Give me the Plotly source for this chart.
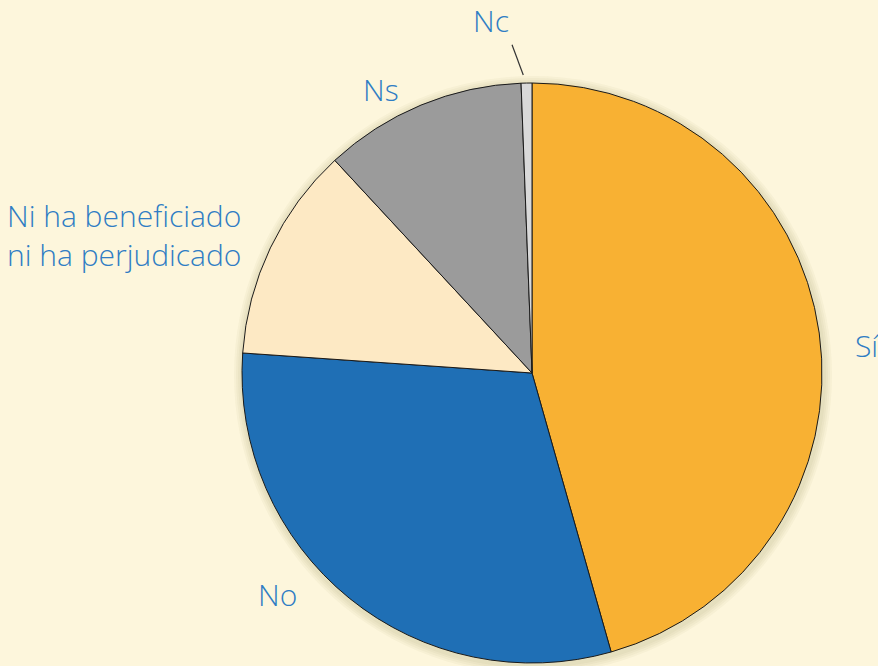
import math
import plotly.graph_objects as go

# ---- data ----
labels = ["Sí", "No", "Ni ha beneficiado<br>ni ha perjudicado", "Ns", "Nc"]
values = [45.6, 30.5, 12.0, 11.3, 0.6]

# ---- style ----
colors = ["#f8b133", "#1f6fb5", "#fde9c4", "#9b9b9b", "#d9d9d9"]
# label placement: (angle offset from slice mid-angle in deg, distance as fraction of radius, xanchor, yanchor)
label_style = [
    (3.1, 1.112, "left", "middle"),
    (7.4, 1.107, "right", "middle"),
    (0.0, 1.104, "right", "middle"),
    (-5.6, 1.107, "center", "middle"),
    (-5.5, 1.225, "center", "middle"),
]
text_color = "#2f7dc4"
font_family = "Open Sans"
font_size = 30

W, H = 878, 666
cx, cy, r = 532, 373, 290  # pie centre / radius in pixels


def to_paper(px, py):
    return px / W, 1 - py / H


def polar(theta_deg, dist):
    t = math.radians(theta_deg)
    return cx + dist * math.sin(t), cy - dist * math.cos(t)


total = sum(values)
mids = []
acc = 0.0
for v in values:
    mids.append((acc + v / 2) / total * 360)
    acc += v

fig = go.Figure(go.Pie(
    labels=labels,
    values=values,
    sort=False,
    direction="clockwise",
    rotation=0,
    marker=dict(colors=colors, line=dict(color="#1a1a1a", width=1)),
    textinfo="none",
    showlegend=False,
    automargin=False,
    hoverinfo="label+percent",
    domain=dict(x=[(cx - r) / W, (cx + r) / W], y=[(H - cy - r) / H, (H - cy + r) / H]),
))

# labels
for lab, mid, (dth, k, xa, ya) in zip(labels, mids, label_style):
    px, py = polar(mid + dth, k * r)
    x, y = to_paper(px, py)
    fig.add_annotation(
        x=x, y=y, xref="paper", yref="paper", text=lab, showarrow=False,
        xanchor=xa, yanchor=ya, align="left",
        font=dict(family=font_family, size=font_size, color=text_color, weight=300),
    )

# leader line for the smallest slice (Nc)
nc = len(values) - 1
x0, y0 = to_paper(*polar(mids[nc] - 0.6, 1.028 * r))
x1, y1 = to_paper(*polar(mids[nc] - 2.4, 1.134 * r))
fig.add_shape(type="line", xref="paper", yref="paper", x0=x0, y0=y0, x1=x1, y1=y1,
              line=dict(color="#333333", width=1.2))

# soft shadow around the pie
for extra in [9, 7, 5, 3]:
    rr = r + extra
    ax0, ay0 = to_paper(cx - rr + 1, cy - rr + 2)
    ax1, ay1 = to_paper(cx + rr + 1, cy + rr + 2)
    fig.add_shape(type="circle", xref="paper", yref="paper", layer="below",
                  x0=ax0, y0=ay1, x1=ax1, y1=ay0,
                  fillcolor="rgba(110,90,30,0.04)", line=dict(width=0))

fig.update_layout(
    width=W, height=H,
    margin=dict(l=0, r=0, t=0, b=0),
    paper_bgcolor="#fdf6dc",
    plot_bgcolor="#fdf6dc",
)

fig.write_html("out.html", config={"displayModeBar": False},
               post_script="document.body.style.margin='0';")
